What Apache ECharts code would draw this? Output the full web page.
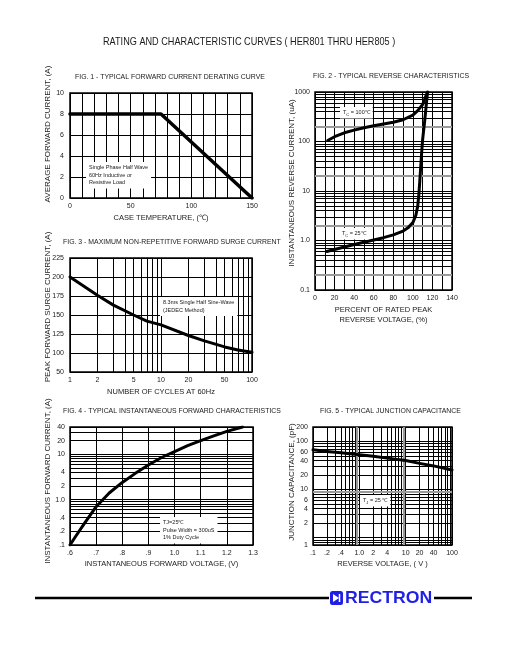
<!DOCTYPE html>
<html><head><meta charset="utf-8">
<script src="https://cdn.jsdelivr.net/npm/echarts@6/dist/echarts.min.js"></script>
<style>html,body{margin:0;padding:0;background:#fff}#c{width:513px;height:649px}</style>
</head><body><div id="c"></div>
<script>
const FONT = '"Liberation Sans",Arial,sans-serif';
const INK = '#1a1a1a';

// ---------- FIG 1 : derating curve ----------
const fig1Temp    = [0, 75, 150];
const fig1Current = [8, 8, 0];

// ---------- FIG 2 : reverse characteristics ----------
const fig2Pct100 = [13, 20, 30, 40, 50, 60, 70, 80, 90, 100, 105, 110, 113, 115];
const fig2Ir100  = [105, 125, 150, 170, 190, 208, 225, 245, 275, 340, 420, 560, 800, 1000];
const fig2Pct25  = [12, 20, 30, 40, 50, 60, 70, 80, 90, 95, 100, 103, 105, 106, 107, 108, 109, 110, 112, 113.5, 115];
const fig2Ir25   = [0.6, 0.66, 0.74, 0.83, 0.92, 1.02, 1.14, 1.3, 1.55, 1.8, 2.3, 3.2, 5, 8, 15, 30, 60, 110, 250, 500, 1000];
const fig2YLabels = [0.1, 1, 10, 100, 1000];
const fig2YText   = ['0.1', '1.0', '10', '100', '1000'];
const fig2GrayLines = [0.2, 2, 20, 200];

// ---------- FIG 3 : surge current ----------
const fig3Cycles = [1, 2, 3, 5, 7, 10, 20, 30, 50, 70, 100];
const fig3Surge  = [200, 176, 163, 150, 142, 137, 123, 116, 108, 104, 101];
const fig3XLabels = [1, 2, 5, 10, 20, 50, 100];

// ---------- FIG 4 : forward characteristics ----------
const fig4Volt = [0.6, 0.62, 0.65, 0.7, 0.75, 0.8, 0.85, 0.9, 0.95, 1.0, 1.05, 1.1, 1.15, 1.2, 1.26];
const fig4Amp  = [0.1, 0.15, 0.27, 0.7, 1.4, 2.4, 3.8, 5.8, 8.5, 11.5, 15.5, 20, 25.5, 32, 40];
const fig4YLabels = [0.1, 0.2, 0.4, 1, 2, 4, 10, 20, 40];
const fig4YText   = ['.1', '.2', '.4', '1.0', '2', '4', '10', '20', '40'];
const fig4XText   = ['.6', '.7', '.8', '.9', '1.0', '1.1', '1.2', '1.3'];

// ---------- FIG 5 : junction capacitance ----------
const fig5Volt = [0.1, 0.2, 0.4, 1, 2, 4, 10, 20, 40, 100];
const fig5Cap  = [67, 62, 58, 53, 49, 45, 40, 35, 31, 25.5];
const fig5XLabels = [0.1, 0.2, 0.4, 1, 2, 4, 10, 20, 40, 100];
const fig5XText   = ['.1', '.2', '.4', '1.0', '2', '4', '10', '20', '40', '100'];
const fig5YLabels = [0.7, 2, 4, 6, 10, 20, 40, 60, 100, 200];
const fig5YText   = ['1', '2', '4', '6', '10', '20', '40', '60', '100', '200'];
const fig5GrayX = [0.9, 9];
const fig5GrayY = [9];

const zip = (a, b) => a.map((v, i) => [v, b[i]]);

function logGrid(lo, hi) {
  const out = [];
  for (let e = -3; e <= 4; e++) {
    for (let m = 1; m <= 9; m++) {
      const v = +(m * Math.pow(10, e)).toPrecision(6);
      if (v >= lo - 1e-9 && v <= hi + 1e-9) out.push(v);
    }
  }
  return out;
}
function lookup(vals, texts) {
  return v => {
    for (let i = 0; i < vals.length; i++) {
      if (Math.abs(Math.log10(v) - Math.log10(vals[i])) < 1e-6) return texts[i];
    }
    return '';
  };
}

const labelStyle = { fontFamily: FONT, fontSize: 7, color: INK };
const nameStyle  = { fontFamily: FONT, fontSize: 7.5, color: INK };
const split = { show: true, lineStyle: { color: '#000', width: 1 } };
const noLine = { show: false };

function gridBox(l, t, w, h) {
  return { left: l, top: t, width: w, height: h, show: true, borderColor: '#000', borderWidth: 1.5, backgroundColor: '#fff', containLabel: false };
}

function logAxis(gi, min, max, labelVals, labelTexts, extra) {
  return Object.assign({
    type: 'log', logBase: 10, gridIndex: gi, min: min, max: max,
    axisLine: noLine,
    axisTick: { show: false, customValues: logGrid(min, max) },
    splitLine: split,
    axisLabel: Object.assign({ customValues: labelVals, formatter: lookup(labelVals, labelTexts), margin: 5 }, labelStyle),
    nameTextStyle: nameStyle, nameLocation: 'middle'
  }, extra || {});
}

const grayMark = (xs, ys) => ({
  silent: true, symbol: 'none', label: { show: false }, animation: false,
  lineStyle: { color: '#9a9a9a', width: 2.2, type: 'solid' },
  data: [].concat((xs || []).map(v => ({ xAxis: v })), (ys || []).map(v => ({ yAxis: v })))
});

const lineSeries = (xi, data, w, smooth, mark) => ({
  type: 'line', xAxisIndex: xi, yAxisIndex: xi, data: data, symbol: 'none',
  smooth: smooth, silent: true, z: 5,
  lineStyle: { color: '#000', width: w || 3, join: 'round', cap: 'round' },
  markLine: mark
});

const titleText = (x, y, t) => ({ type: 'text', x: x, y: y, scaleX: 0.92, style: { text: t, font: '7.5px ' + FONT, fill: INK } });
const yName = (x, y, t) => ({ type: 'text', x: x, y: y, rotation: Math.PI / 2,
  style: { text: t, font: '8px ' + FONT, fill: INK, align: 'center', verticalAlign: 'middle' } });
const note = (x, y, t, extra) => ({ type: 'text', left: x, top: y, z: 100,
  style: Object.assign({ text: t, font: '5.5px ' + FONT, fill: INK, backgroundColor: '#fff', padding: [2, 3], lineHeight: 7.5 }, extra || {}) });
const subRich = { rich: { s: { font: '4px ' + FONT, fill: INK, verticalAlign: 'bottom' } } };

const option = {
  animation: false,
  backgroundColor: '#fff',
  grid: [
    gridBox(70, 93, 182, 105),
    gridBox(315, 92, 137, 198),
    gridBox(70, 258, 182, 114),
    gridBox(70, 427, 183, 118),
    gridBox(313, 427, 139, 118)
  ],
  xAxis: [
    { type: 'value', gridIndex: 0, min: 0, max: 150, interval: 10, axisLine: noLine, axisTick: noLine, splitLine: split,
      axisLabel: Object.assign({ formatter: v => (v % 50 === 0 ? String(v) : ''), margin: 5 }, labelStyle),
      name: 'CASE TEMPERATURE, (℃)', nameLocation: 'middle', nameGap: 16, nameTextStyle: nameStyle },
    { type: 'value', gridIndex: 1, min: 0, max: 140, interval: 10, axisLine: noLine, axisTick: noLine, splitLine: split,
      axisLabel: Object.assign({ formatter: v => (v % 20 === 0 ? String(v) : ''), margin: 5 }, labelStyle),
      name: 'PERCENT OF RATED PEAK\nREVERSE VOLTAGE, (%)', nameLocation: 'middle', nameGap: 15,
      nameTextStyle: Object.assign({ lineHeight: 10, verticalAlign: 'top' }, nameStyle) },
    logAxis(2, 1, 100, fig3XLabels, fig3XLabels.map(String), { name: 'NUMBER OF CYCLES AT 60Hz', nameGap: 16 }),
    { type: 'value', gridIndex: 3, min: 0.6, max: 1.3, interval: 0.1, axisLine: noLine, axisTick: noLine, splitLine: split,
      axisLabel: Object.assign({ formatter: v => fig4XText[Math.round((v - 0.6) * 10)] || '', margin: 5 }, labelStyle),
      name: 'INSTANTANEOUS FORWARD VOLTAGE, (V)', nameLocation: 'middle', nameGap: 15, nameTextStyle: nameStyle },
    logAxis(4, 0.1, 100, fig5XLabels, fig5XText, { name: 'REVERSE VOLTAGE, ( V )', nameGap: 15 })
  ],
  yAxis: [
    { type: 'value', gridIndex: 0, min: 0, max: 10, interval: 2, axisLine: noLine, axisTick: noLine, splitLine: split,
      axisLabel: Object.assign({ margin: 6 }, labelStyle) },
    logAxis(1, 0.1, 1000, fig2YLabels, fig2YText),
    { type: 'value', gridIndex: 2, min: 75, max: 225, interval: 25, axisLine: noLine, axisTick: noLine, splitLine: split,
      axisLabel: Object.assign({ formatter: v => (v === 75 ? '50' : String(v)), margin: 6 }, labelStyle) },
    logAxis(3, 0.1, 40, fig4YLabels, fig4YText),
    logAxis(4, 0.7, 200, fig5YLabels, fig5YText)
  ],
  series: [
    lineSeries(0, zip(fig1Temp, fig1Current), 3.5, false),
    lineSeries(1, zip(fig2Pct100, fig2Ir100), 3, false, grayMark([], fig2GrayLines)),
    lineSeries(1, zip(fig2Pct25, fig2Ir25), 3, false),
    lineSeries(2, zip(fig3Cycles, fig3Surge), 3, false),
    lineSeries(3, zip(fig4Volt, fig4Amp), 3, false),
    lineSeries(4, zip(fig5Volt, fig5Cap), 3, false, grayMark(fig5GrayX, fig5GrayY))
  ],
  graphic: [
    { type: 'text', x: 103, y: 36, scaleX: 0.795, style: { text: 'RATING AND CHARACTERISTIC CURVES ( HER801 THRU HER805 )', font: '11.5px ' + FONT, fill: INK } },
    titleText(75, 73, 'FIG. 1 - TYPICAL FORWARD CURRENT DERATING CURVE'),
    titleText(313, 72, 'FIG. 2 - TYPICAL REVERSE CHARACTERISTICS'),
    titleText(63, 238, 'FIG. 3 - MAXIMUM NON-REPETITIVE FORWARD SURGE CURRENT'),
    titleText(63, 407, 'FIG. 4 - TYPICAL INSTANTANEOUS FORWARD CHARACTERISTICS'),
    titleText(320, 407, 'FIG. 5 - TYPICAL JUNCTION CAPACITANCE'),
    yName(48, 134, 'AVERAGE FORWARD CURRENT, (A)'),
    yName(292, 183, 'INSTANTANEOUS REVERSE CURRENT, (uA)'),
    yName(48, 307, 'PEAK FORWARD SURGE CURRENT, (A)'),
    yName(48, 481, 'INSTANTANEOUS FORWARD CURRENT, (A)'),
    yName(292, 482, 'JUNCTION CAPACITANCE, (pF)'),
    note(86, 162, 'Single Phase Half Wave\n60Hz Inductive or\nResistive Load'),
    note(160, 297, '8.3ms Single Half Sine-Wave\n(JEDEC Method)'),
    note(160, 517, 'TJ=25℃\nPulse Width = 300uS\n1% Duty Cycle'),
    note(340, 107, 'T{s|C} = 100℃', subRich),
    note(339, 228, 'T{s|C} = 25℃', subRich),
    note(360, 495, 'T{s|J} = 25 ℃', subRich),
    { type: 'line', shape: { x1: 35, y1: 598, x2: 329, y2: 598 }, style: { stroke: '#000', lineWidth: 2.5 } },
    { type: 'line', shape: { x1: 434, y1: 598, x2: 472, y2: 598 }, style: { stroke: '#000', lineWidth: 2.5 } },
    { type: 'rect', shape: { x: 330, y: 591, width: 13, height: 14, r: 2.5 }, style: { fill: '#1f1fe6' } },
    { type: 'polygon', shape: { points: [[333, 594], [339, 598], [333, 602]] }, style: { fill: '#fff' } },
    { type: 'line', shape: { x1: 339.5, y1: 594, x2: 339.5, y2: 602 }, style: { stroke: '#fff', lineWidth: 1.5 } },
    { type: 'text', x: 345, y: 590, scaleX: 1.07, style: { text: 'RECTRON', font: 'bold 16.5px "Liberation Sans",Arial,sans-serif', fill: '#1f1fe6' } }
  ]
};

echarts.init(document.getElementById('c'), null, { renderer: 'canvas' }).setOption(option);
</script>
</body></html>
